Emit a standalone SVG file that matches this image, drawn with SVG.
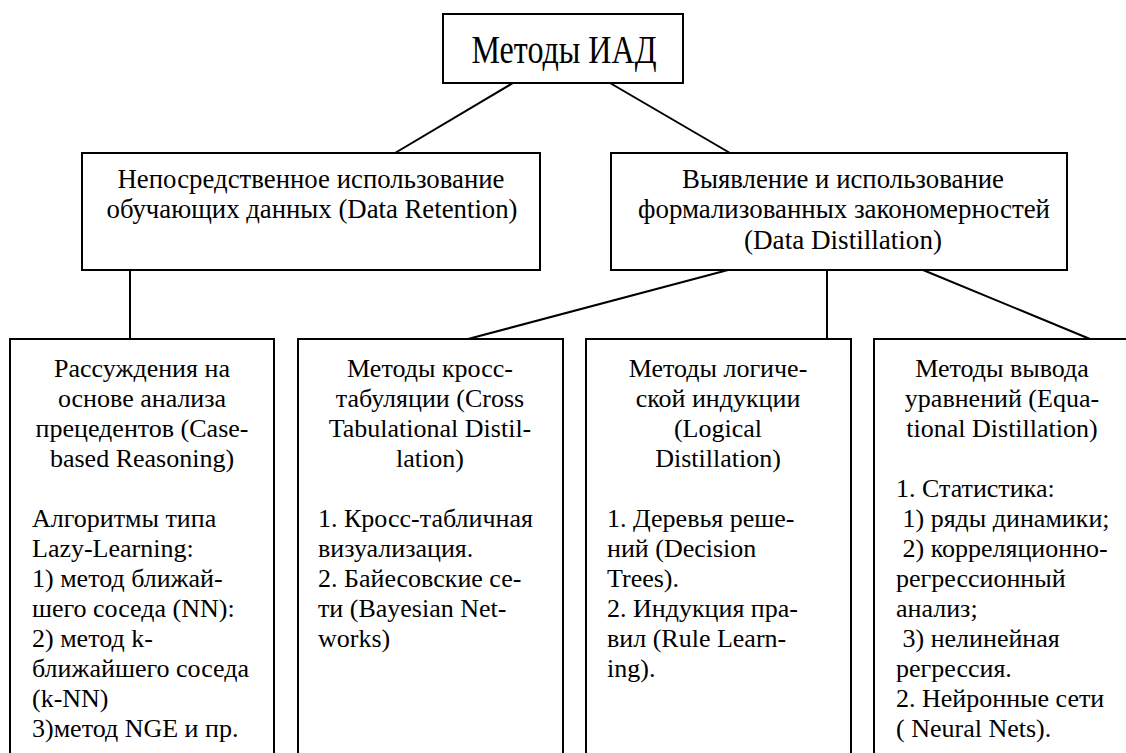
<svg xmlns="http://www.w3.org/2000/svg" width="1126" height="753" viewBox="0 0 1126 753">
<style>
.box{fill:#fff;stroke:#000;stroke-width:2}
.ln{stroke:#000;stroke-width:2;fill:none}
text{font-family:"Liberation Serif","Times New Roman",serif;fill:#000}
.t0{font-size:40px;text-anchor:middle}
.t1{font-size:27px;text-anchor:middle}
.c{font-size:26px;text-anchor:middle}
.l{font-size:26px}
</style>
<rect width="1126" height="753" fill="#fff"/>
<g id="connectors">
<line class="ln" x1="513" y1="83" x2="395" y2="153"/>
<line class="ln" x1="610" y1="83" x2="730" y2="153"/>
<line class="ln" x1="130" y1="270" x2="130" y2="339"/>
<line class="ln" x1="728" y1="270" x2="468" y2="339"/>
<line class="ln" x1="827" y1="270" x2="827" y2="339"/>
<line class="ln" x1="923" y1="270" x2="1090" y2="339"/>
</g>
<g id="root">
<rect class="box" x="443" y="14" width="240" height="69"/>
<text class="t0" x="564" y="63" textLength="185" lengthAdjust="spacingAndGlyphs">Методы ИАД</text>
</g>
<g id="retention">
<rect class="box" x="82" y="153" width="458" height="117"/>
<text class="t1" x="311" y="188" textLength="387" lengthAdjust="spacingAndGlyphs">Непосредственное использование</text>
<text class="t1" x="312" y="218" textLength="411" lengthAdjust="spacingAndGlyphs">обучающих данных (Data Retention)</text>
</g>
<g id="distillation">
<rect class="box" x="611" y="153" width="456" height="117"/>
<text class="t1" x="843" y="188" textLength="322" lengthAdjust="spacingAndGlyphs">Выявление и использование</text>
<text class="t1" x="844" y="218" textLength="412" lengthAdjust="spacingAndGlyphs">формализованных закономерностей</text>
<text class="t1" x="843" y="249" textLength="198" lengthAdjust="spacingAndGlyphs">(Data Distillation)</text>
</g>
<g id="case-based">
<rect class="box" x="10" y="339" width="264" height="460"/>
<text class="c" x="142" y="377">Рассуждения на</text>
<text class="c" x="142" y="407">основе анализа</text>
<text class="c" x="142" y="437">прецедентов (Case-</text>
<text class="c" x="142" y="467">based Reasoning)</text>
<text class="l" x="32" y="527">Алгоритмы типа</text>
<text class="l" x="32" y="557">Lazy-Learning:</text>
<text class="l" x="32" y="587">1) метод ближай-</text>
<text class="l" x="32" y="617">шего соседа (NN):</text>
<text class="l" x="32" y="647">2) метод k-</text>
<text class="l" x="32" y="677">ближайшего соседа</text>
<text class="l" x="32" y="707">(k-NN)</text>
<text class="l" x="32" y="737">3)метод NGE и пр.</text>
</g>
<g id="cross-tab">
<rect class="box" x="298" y="339" width="265" height="460"/>
<text class="c" x="430" y="377">Методы кросс-</text>
<text class="c" x="430" y="407">табуляции (Cross</text>
<text class="c" x="430" y="437">Tabulational Distil-</text>
<text class="c" x="430" y="467">lation)</text>
<text class="l" x="318" y="527">1. Кросс-табличная</text>
<text class="l" x="318" y="557">визуализация.</text>
<text class="l" x="318" y="587">2. Байесовские се-</text>
<text class="l" x="318" y="617">ти (Bayesian Net-</text>
<text class="l" x="318" y="647">works)</text>
</g>
<g id="logical">
<rect class="box" x="586" y="339" width="265" height="460"/>
<text class="c" x="718" y="377">Методы логиче-</text>
<text class="c" x="718" y="407">ской индукции</text>
<text class="c" x="718" y="437">(Logical</text>
<text class="c" x="718" y="467">Distillation)</text>
<text class="l" x="607" y="527">1. Деревья реше-</text>
<text class="l" x="607" y="557">ний (Decision</text>
<text class="l" x="607" y="587">Trees).</text>
<text class="l" x="607" y="617">2. Индукция пра-</text>
<text class="l" x="607" y="647">вил (Rule Learn-</text>
<text class="l" x="607" y="677">ing).</text>
</g>
<g id="equational">
<rect class="box" x="874" y="339" width="265" height="460"/>
<text class="c" x="1002" y="377">Методы вывода</text>
<text class="c" x="1002" y="407">уравнений (Equa-</text>
<text class="c" x="1002" y="437">tional Distillation)</text>
<text class="l" x="896" y="497" xml:space="preserve">1. Статистика:</text>
<text class="l" x="896" y="527" xml:space="preserve"> 1) ряды динамики;</text>
<text class="l" x="896" y="557" xml:space="preserve"> 2) корреляционно-</text>
<text class="l" x="896" y="587" xml:space="preserve">регрессионный</text>
<text class="l" x="896" y="617" xml:space="preserve">анализ;</text>
<text class="l" x="896" y="647" xml:space="preserve"> 3) нелинейная</text>
<text class="l" x="896" y="677" xml:space="preserve">регрессия.</text>
<text class="l" x="896" y="707" xml:space="preserve">2. Нейронные сети</text>
<text class="l" x="896" y="737" xml:space="preserve">( Neural Nets).</text>
</g>
</svg>
